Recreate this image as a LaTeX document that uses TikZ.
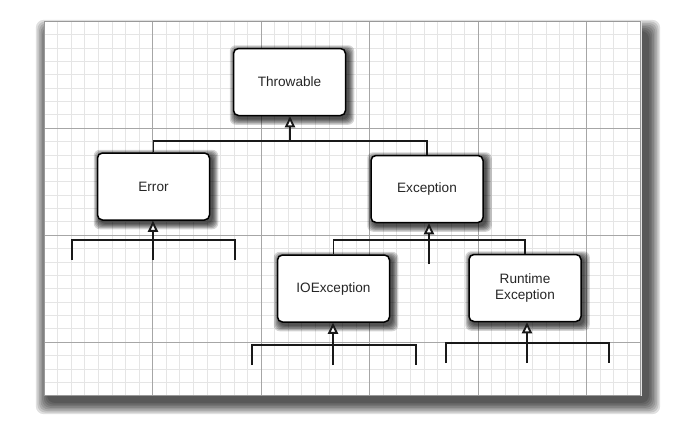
\documentclass[tikz,border=0pt]{standalone}
\usepackage{fontspec}
\setmainfont{Liberation Sans}
\usetikzlibrary{arrows.meta,calc}
\pgfdeclarelayer{gridlayer}
\pgfdeclarelayer{shadelayer}
\pgfsetlayers{gridlayer,shadelayer,main}
\tikzset{
  cls/.style={draw=black, line width=1.5pt, rounded corners=5pt, fill=white,
    minimum width=112pt, minimum height=67pt, inner sep=0pt, align=center,
    text=black!85, font=\fontsize{13.6}{15.6}\selectfont},
  conn/.style={draw=black!90, line width=1.9pt},
  inh/.style={conn, -{Triangle[length=11pt, width=10pt, fill=white]}},
  minorline/.style={draw=black!10, line width=0.5pt},
  majorline/.style={draw=black!35, line width=0.8pt},
}
\begin{document}
\begin{tikzpicture}[x=1pt, y=-1pt]
\useasboundingbox (0,0) rectangle (675,426);

% panel shadow and grid
\begin{pgfonlayer}{gridlayer}
  \fill[white] (0,0) rectangle (675,426);
  \foreach \i in {0,...,7} {
    \fill[black, opacity=0.12, rounded corners=8pt]
      ({47-\i*1.6},{31-\i*1.6}) rectangle ({649+\i*1.6},{403+\i*1.6});
  }
  \fill[white] (44,21) rectangle (640.75,395.5);
  \foreach \k in {0,...,44} {
    \draw[minorline] ({44+\k*108.5/8},21) -- ({44+\k*108.5/8},395.5);
  }
  \foreach \k in {0,...,28} {
    \draw[minorline] (44,{21+\k*107/8}) -- (640.75,{21+\k*107/8});
  }
  \foreach \k in {1,...,5} {
    \draw[majorline] ({44+\k*108.5},21) -- ({44+\k*108.5},395.5);
  }
  \foreach \k in {1,2,3} {
    \draw[majorline] (44,{21+\k*107}) -- (640.75,{21+\k*107});
  }
  \draw[black!40, line width=0.8pt] (44,21) rectangle (640.75,395.5);
\end{pgfonlayer}

% class boxes
\node[cls] (thr) at (289.5,82)  {Throwable};
\node[cls] (err) at (153.5,186.5) {Error};
\node[cls] (exc) at (427,189)   {Exception};
\node[cls] (ioe) at (333.5,288.5) {IOException};
\node[cls] (rte) at (525,288)   {Runtime\\Exception};

% box shadows
\begin{pgfonlayer}{shadelayer}
  \foreach \n in {thr,err,exc,ioe,rte} {
    \foreach \i in {0,...,5} {
      \fill[black, opacity=0.17, rounded corners=6pt]
        ($(\n.north west)+({2.5-\i*1.1},{3-\i*1.1})$) rectangle
        ($(\n.south east)+({2.5+\i*1.1},{3+\i*1.1})$);
    }
  }
\end{pgfonlayer}

% Throwable hierarchy
\coordinate (j1) at (290,141);
\draw[conn] (err.north) -- (err.north |- j1) -- (exc.north |- j1) -- (exc.north);
\draw[inh] (j1) -- (j1 |- thr.south);

% under Error
\coordinate (es) at (153,260);
\coordinate (elt) at (72,240);
\coordinate (elb) at (72,260);
\coordinate (ert) at (235,240);
\coordinate (erb) at (235,260);
\draw[conn] (elb) -- (elt) -- (ert) -- (erb);
\draw[inh] (es) -- (es |- err.south);

% under Exception
\coordinate (xs) at (429,264);
\coordinate (j2) at (429,240);
\draw[conn] (ioe.north) -- (ioe.north |- j2) -- (rte.north |- j2) -- (rte.north);
\draw[inh] (xs) -- (xs |- exc.south);

% under IOException
\coordinate (is) at (333,365);
\coordinate (ilt) at (252,345);
\coordinate (ilb) at (252,365);
\coordinate (irt) at (416,345);
\coordinate (irb) at (416,365);
\draw[conn] (ilb) -- (ilt) -- (irt) -- (irb);
\draw[inh] (is) -- (is |- ioe.south);

% under RuntimeException
\coordinate (rs) at (527,363);
\coordinate (rlt) at (446,343);
\coordinate (rlb) at (446,363);
\coordinate (rrt) at (609,343);
\coordinate (rrb) at (609,363);
\draw[conn] (rlb) -- (rlt) -- (rrt) -- (rrb);
\draw[inh] (rs) -- (rs |- rte.south);
\end{tikzpicture}
\end{document}
